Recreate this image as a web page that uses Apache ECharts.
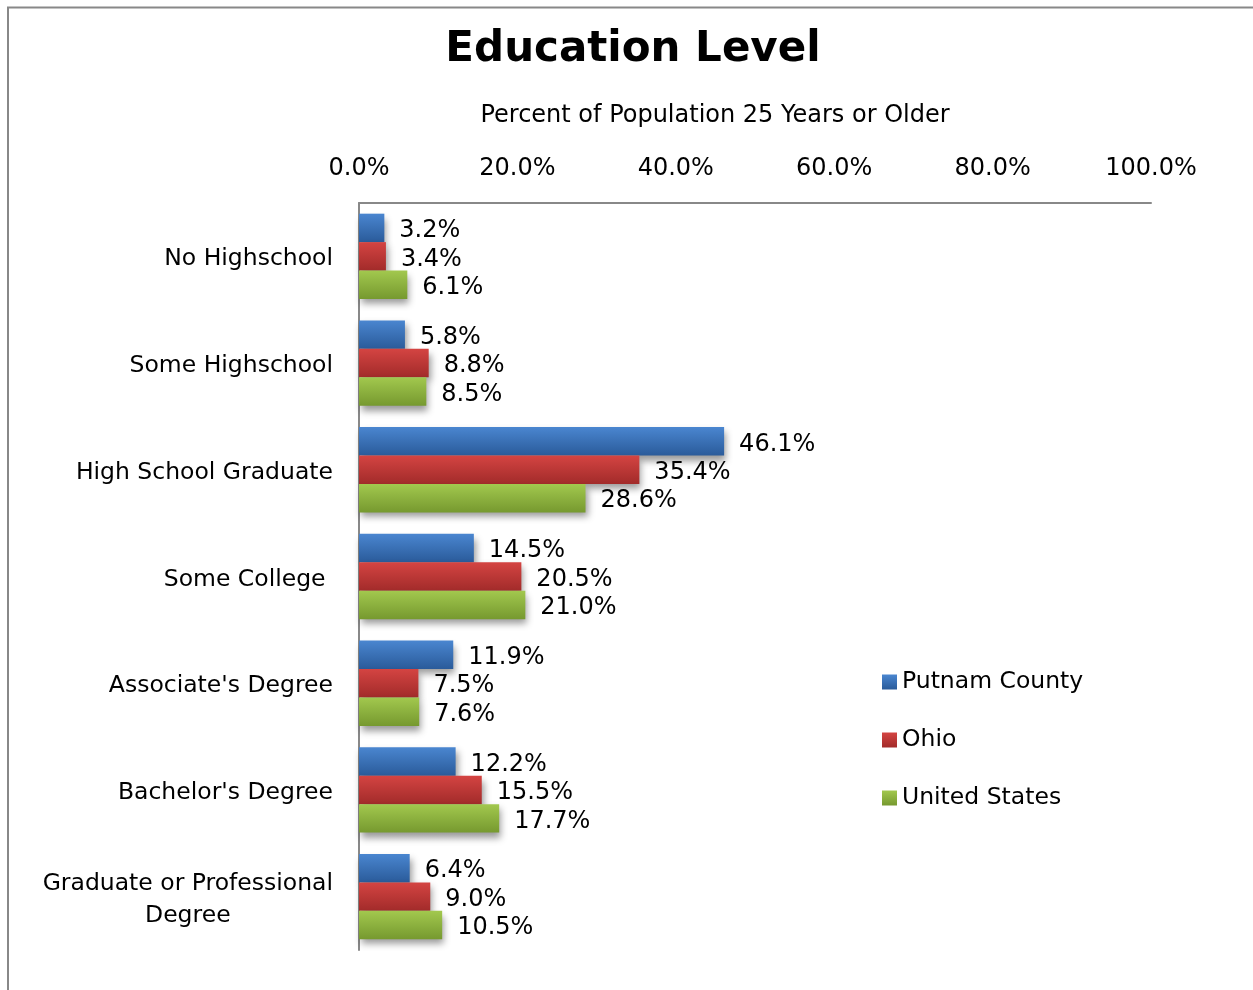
<!DOCTYPE html>
<html><head><meta charset="utf-8">
<script src="https://cdn.jsdelivr.net/npm/echarts@6/dist/echarts.min.js"></script>
<style>html,body{margin:0;padding:0;background:#fff}#c{width:1253px;height:990px}</style>
</head><body><div id="c"></div>
<script>
const categories = ["No Highschool","Some Highschool","High School Graduate","Some College ","Associate's Degree","Bachelor's Degree","Graduate or Professional Degree"];
const seriesNames = ["Putnam County","Ohio","United States"];
const putnam = [3.2,5.8,46.1,14.5,11.9,12.2,6.4];
const ohio = [3.4,8.8,35.4,20.5,7.5,15.5,9.0];
const us = [6.1,8.5,28.6,21.0,7.6,17.7,10.5];
const xTicks = [0,20,40,60,80,100];

const FONT = "DejaVu Sans";
const FS = 23.5;
const grads = [
  ['#4a86d0','#2a5b9a'],
  ['#d44442','#a22b2a'],
  ['#a2c84e','#76992f']
];
function grad(c){return new echarts.graphic.LinearGradient(0,0,0,1,[{offset:0,color:c[0]},{offset:1,color:c[1]}]);}
const dataSets=[putnam,ohio,us];
const chart = echarts.init(document.getElementById('c'),null,{renderer:'canvas'});
chart.setOption({
  animation:false,
  backgroundColor:'#fff',
  title:[
    {text:'Education Level',left:628,top:24,textAlign:'center',textStyle:{fontFamily:FONT,fontSize:42,fontWeight:'bold',color:'#000'}},
    {text:'Percent of Population 25 Years or Older',left:710,top:99,textAlign:'center',textStyle:{fontFamily:FONT,fontSize:24,fontWeight:'normal',color:'#000'}}
  ],
  graphic:[
    {type:'polyline',shape:{points:[[8,990],[8,7.5],[1253,7.5]]},style:{stroke:'#888',lineWidth:2,fill:null}}
  ],
  legend:{
    orient:'vertical',left:877,top:665,itemGap:34,itemWidth:15,itemHeight:15,icon:'rect',
    textStyle:{fontFamily:FONT,fontSize:FS,color:'#000',padding:[0,0,0,0]},
    data:seriesNames
  },
  grid:{left:359,top:203,width:792,height:747,containLabel:false},
  xAxis:{
    type:'value',position:'top',min:0,max:100,interval:20,
    axisLine:{show:true,lineStyle:{color:'#888',width:2}},
    axisTick:{show:false},splitLine:{show:false},
    axisLabel:{margin:22,fontFamily:FONT,fontSize:24,color:'#000',formatter:v=>v.toFixed(1)+'%'}
  },
  yAxis:{
    type:'category',inverse:true,data:categories,
    axisLine:{show:true,lineStyle:{color:'#888',width:2}},
    axisTick:{show:false},
    axisLabel:{margin:26,padding:[6,0,0,0],fontFamily:FONT,fontSize:FS,color:'#000',
      formatter:function(v){
        if(v==='Graduate or Professional Degree') return '{a|Graduate or Professional}\n{b|Degree}';
        return v;
      },
      rich:{a:{fontFamily:FONT,fontSize:FS,color:'#000',lineHeight:32},b:{fontFamily:FONT,fontSize:FS,color:'#000',align:'center',lineHeight:32}}
    }
  },
  series:seriesNames.map((n,i)=>({
    name:n,type:'bar',data:dataSets[i],
    barGap:'0%',barCategoryGap:'20%',
    itemStyle:{color:grad(grads[i]),shadowColor:'rgba(0,0,0,0.4)',shadowBlur:7,shadowOffsetX:2,shadowOffsetY:5},
    label:{show:true,position:'right',distance:15,offset:[0,3],fontFamily:FONT,fontSize:24,color:'#000',formatter:p=>p.value.toFixed(1)+'%'}
  }))
});
</script></body></html>
